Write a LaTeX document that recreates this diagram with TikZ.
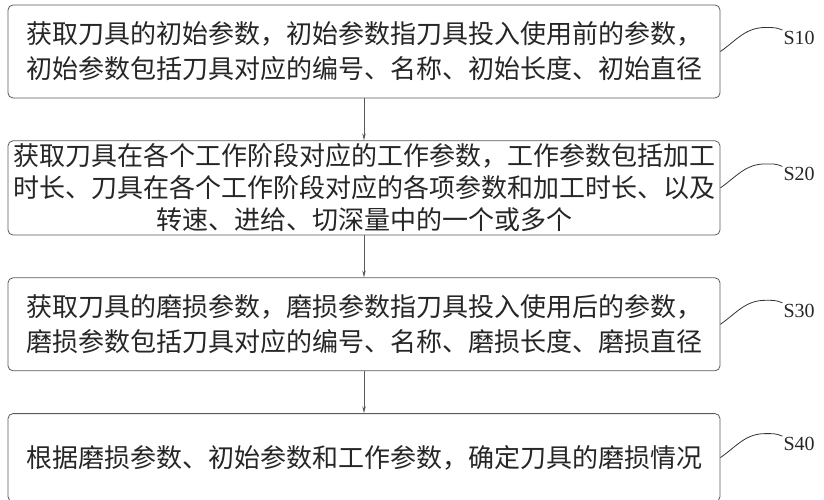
\documentclass[tikz,border=0pt]{standalone}
\usepackage{fontspec}
\setmainfont{Liberation Serif}
\newfontfamily\cjk{Noto Sans CJK SC}
\usetikzlibrary{positioning,arrows.meta}

\begin{document}
\begin{tikzpicture}[x=1pt,y=1pt,node distance=42pt,
	stepbox/.style={draw=black!65,line width=0.8pt,rounded corners=5pt,
		text width=706pt,align=center,inner sep=3pt,text=black!85,
		font=\cjk\fontsize{26}{35}\selectfont},
	steplabel/.style={inner sep=1pt,anchor=west,text=black!85,
		font=\fontsize{20}{20}\selectfont},
	wave/.style={draw=black!80,line width=0.8pt},
	flow/.style={draw=black!65,line width=0.8pt,-{Stealth[length=7pt,width=3.5pt]}}]
\useasboundingbox (0,0) rectangle (824,-500);
% steps
\node[stepbox,minimum height=93pt] (s1) at (364,-51.5)
	{获取刀具的初始参数，初始参数指刀具投入使用前的参数，\\初始参数包括刀具对应的编号、名称、初始长度、初始直径};
\node[stepbox,minimum height=90pt,font=\cjk\fontsize{26}{32}\selectfont] (s2) [below=of s1]
	{获取刀具在各个工作阶段对应的工作参数，工作参数包括加工\\时长、刀具在各个工作阶段对应的各项参数和加工时长、以及\\转速、进给、切深量中的一个或多个};
\node[stepbox,minimum height=93pt] (s3) [below=of s2]
	{获取刀具的磨损参数，磨损参数指刀具投入使用后的参数，\\磨损参数包括刀具对应的编号、名称、磨损长度、磨损直径};
\node[stepbox,minimum height=88pt] (s4) [below=of s3]
	{根据磨损参数、初始参数和工作参数，确定刀具的磨损情况};
% labels
\node[steplabel] (l1) at ([shift={(62,13.5)}]s1.east) {S10};
\node[steplabel] (l2) at ([shift={(62,13.5)}]s2.east) {S20};
\node[steplabel] (l3) at ([shift={(62,13.5)}]s3.east) {S30};
\node[steplabel] (l4) at ([shift={(62,13.5)}]s4.east) {S40};
\foreach \i in {1,...,4}
	\path[wave] (s\i.east) to[out=35,in=180] ++(45,24) to[out=0,in=155] (l\i.north west);
% arrows
\path[flow] (s1) -- (s2);
\path[flow] (s2) -- (s3);
\path[flow] (s3) -- (s4);
\end{tikzpicture}
\end{document}
